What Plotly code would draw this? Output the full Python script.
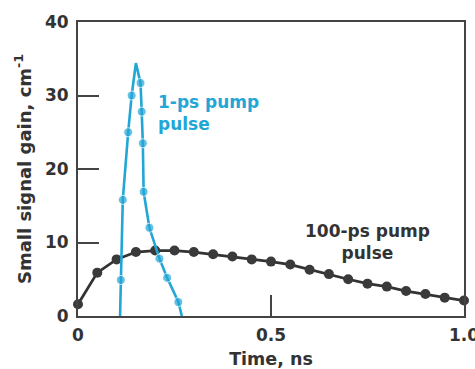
import plotly.graph_objects as go

# 100-ps pump pulse
t_100 = [0.0, 0.05, 0.10, 0.15, 0.20, 0.25, 0.30, 0.35, 0.40, 0.45, 0.50,
         0.55, 0.60, 0.65, 0.70, 0.75, 0.80, 0.85, 0.90, 0.95, 1.0]
g_100 = [1.6, 5.9, 7.7, 8.7, 8.9, 8.9, 8.7, 8.4, 8.1, 7.7, 7.4,
         7.0, 6.3, 5.7, 5.0, 4.4, 4.0, 3.4, 3.0, 2.5, 2.1]

# 1-ps pump pulse (first, peak and last points are line-only)
t_1 = [0.109, 0.111, 0.116, 0.130, 0.139, 0.150, 0.162, 0.165, 0.168, 0.170,
       0.185, 0.211, 0.231, 0.260, 0.269]
g_1 = [0.0, 4.9, 15.8, 25.0, 30.0, 34.4, 31.7, 27.8, 23.5, 16.9,
       12.0, 7.8, 5.2, 1.9, 0.0]
m_1 = [0, 9, 9, 9, 9, 0, 9, 9, 9, 9, 9, 9, 9, 9, 0]

x_ticks = [0, 0.5, 1.0]
x_ticklabels = ["0", "0.5", "1.0"]
y_ticks = [0, 10, 20, 30, 40]
y_ticklabels = ["0", "10", "20", "30", "40"]

BLUE = "#22a6d6"
DARK = "#333333"
FONT = "DejaVu Sans"

fig = go.Figure()
fig.add_trace(go.Scatter(x=t_100, y=g_100, mode="lines+markers",
                         line=dict(color=DARK, width=2.8),
                         marker=dict(color="#3a3a3a", size=10),
                         cliponaxis=False, showlegend=False))
fig.add_trace(go.Scatter(x=t_1, y=g_1, mode="lines+markers",
                         line=dict(color=BLUE, width=2.6),
                         marker=dict(color=BLUE, size=m_1),
                         cliponaxis=False, showlegend=False))

fig.add_annotation(x=0.202, y=27.6, xref="x", yref="y", xanchor="left",
                   yanchor="middle", align="left", showarrow=False,
                   text="1-ps pump<br>pulse",
                   font=dict(family=FONT, size=17, color=BLUE, weight="bold"))
fig.add_annotation(x=0.751, y=10.1, xref="x", yref="y", xanchor="center",
                   yanchor="middle", align="center", showarrow=False,
                   text="100-ps pump<br>pulse",
                   font=dict(family=FONT, size=17, color=DARK, weight="bold"))

axis_common = dict(showgrid=False, zeroline=False, showline=True, mirror=True,
                   linecolor="#444444", linewidth=2, ticks="inside",
                   ticklen=21, tickwidth=2, tickcolor="#444444",
                   automargin=False,
                   tickfont=dict(family=FONT, size=17, color=DARK, weight="bold"))

fig.update_xaxes(range=[0, 1.0], tickvals=x_ticks, ticktext=x_ticklabels,
                 ticklabeloverflow="allow", ticklabelstandoff=3,
                 title=dict(text="Time, ns", standoff=10,
                            font=dict(family=FONT, size=17.5, color=DARK, weight="bold")),
                 **axis_common)
fig.update_yaxes(range=[0, 40], tickvals=y_ticks, ticktext=y_ticklabels,
                 ticklabelstandoff=4,
                 title=dict(text="Small signal gain, cm<sup>-1</sup>", standoff=9,
                            font=dict(family=FONT, size=18, color=DARK, weight="bold")),
                 **axis_common)

fig.update_layout(width=475, height=369,
                  margin=dict(l=78, r=11, t=22, b=53),
                  plot_bgcolor="white", paper_bgcolor="white")

fig.write_html("out.html", config={"displayModeBar": False},
               post_script="document.body.style.margin='0';document.body.style.overflow='hidden';")
